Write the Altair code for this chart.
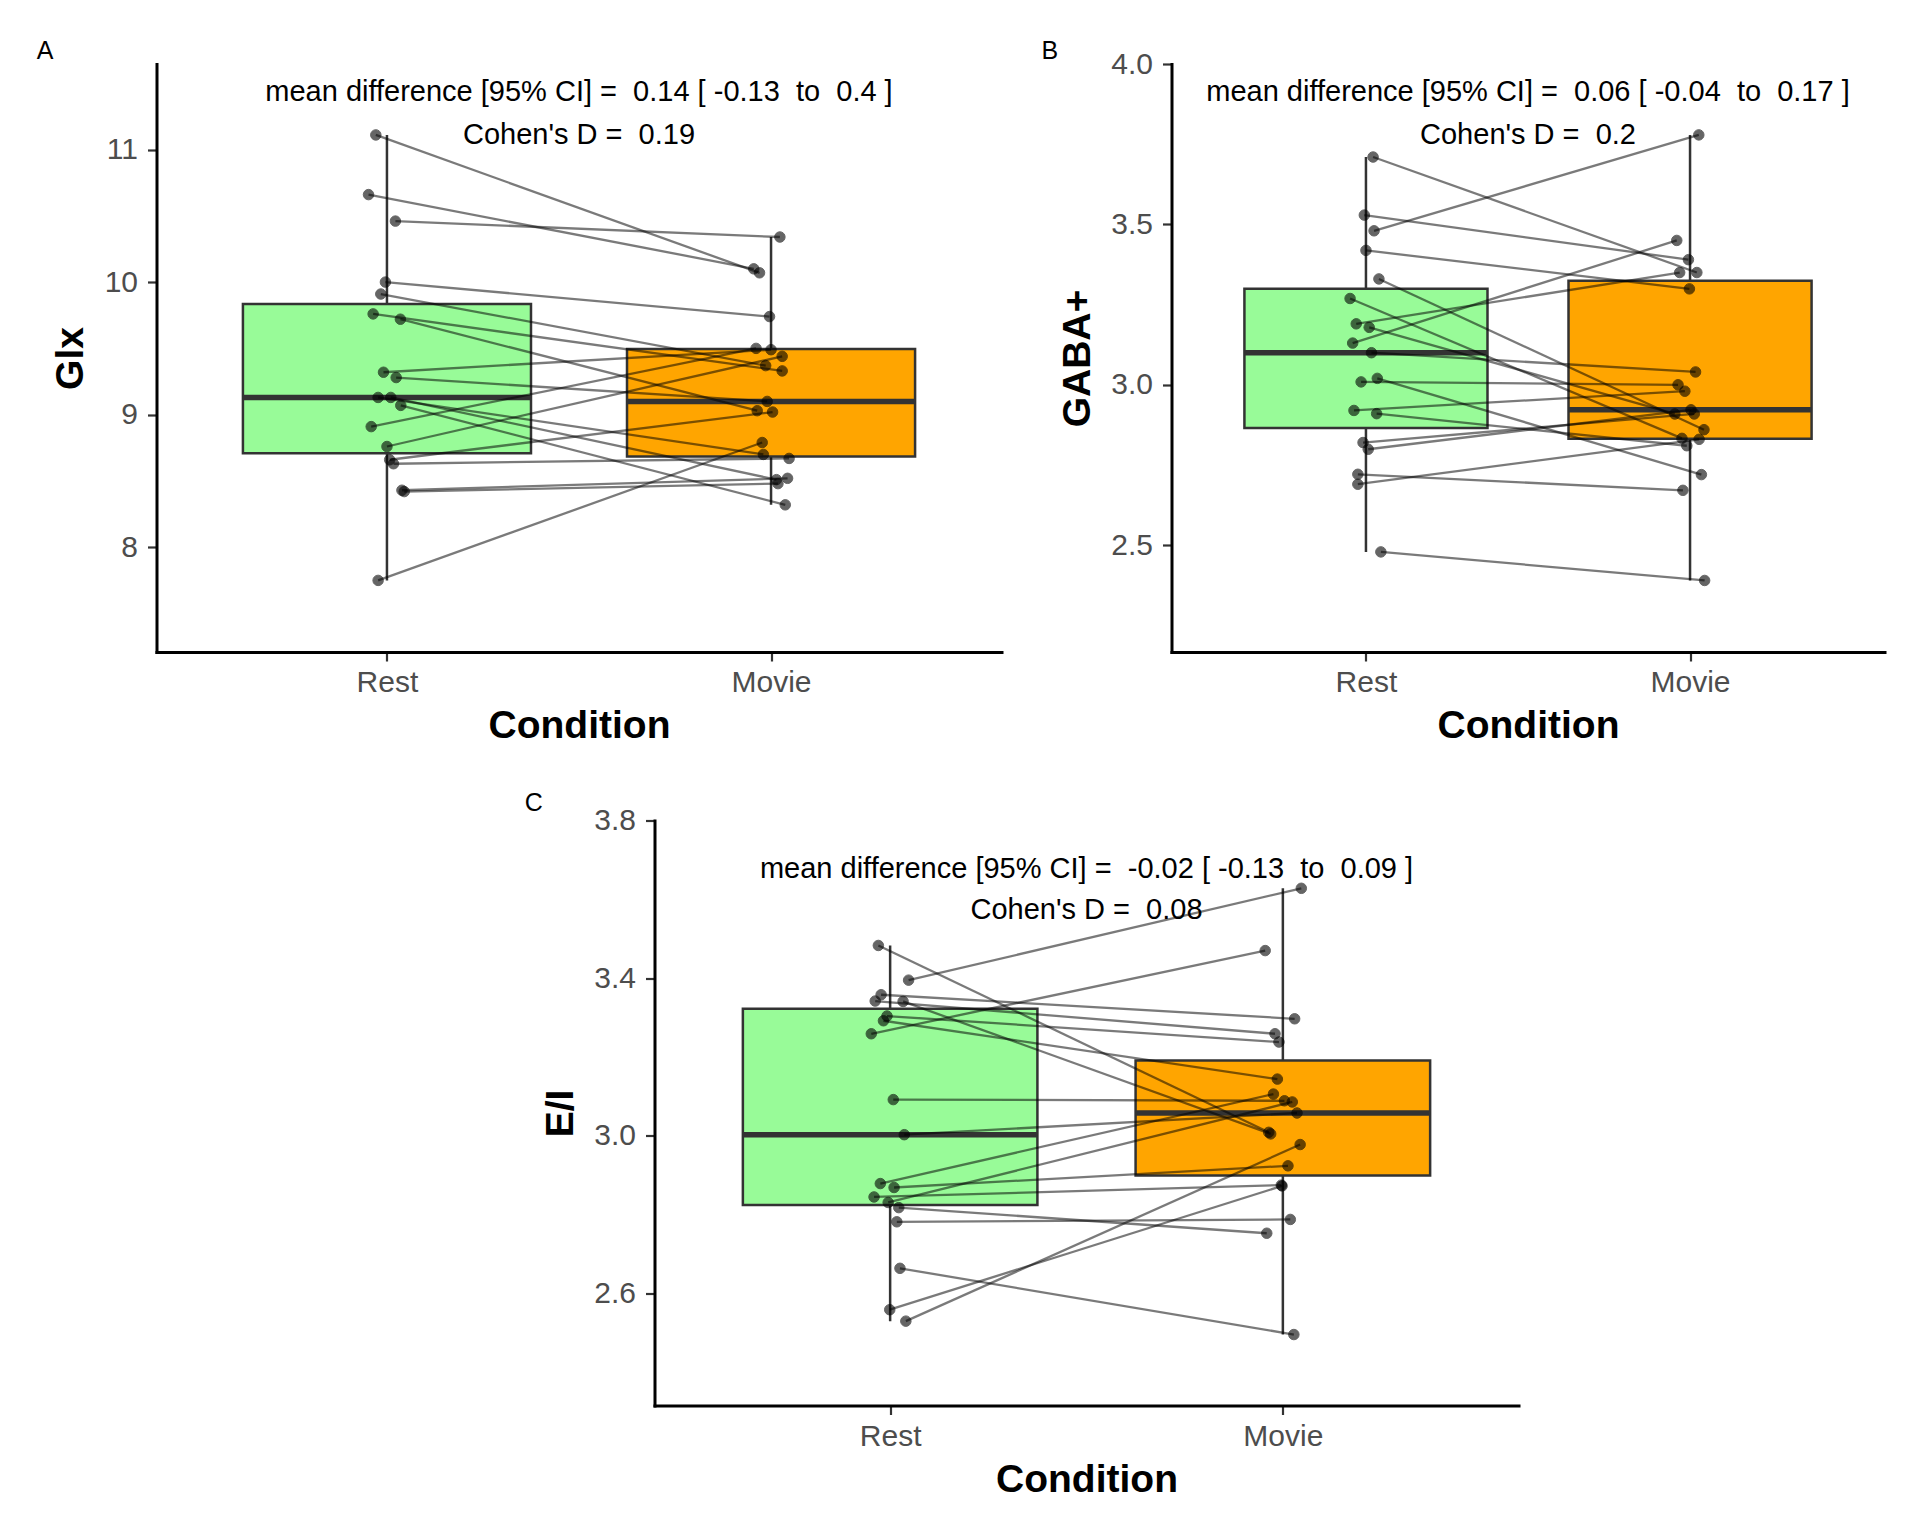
import altair as alt
import pandas as pd

FONT = "Liberation Sans"
CONDITIONS = ["Rest", "Movie"]
FILLS = ["#98FB98", "#FFA500"]

# ---- Panel A: Glx (paired by subject) ----
GLX_REST = [11.11, 10.66, 10.46, 10.00, 9.91, 9.76, 9.72, 9.32, 9.28, 9.13,
            9.13, 9.07, 8.91, 8.76, 8.66, 8.63, 8.43, 8.42, 7.75]
GLX_MOVIE = [10.07, 10.10, 10.34, 9.74, 9.37, 9.33, 9.03, 9.49, 9.10, 8.70,
             8.51, 8.32, 9.50, 9.44, 9.02, 8.67, 8.52, 8.48, 8.79]
GLX_REST_JIT = [-0.029, -0.048, 0.022, -0.004, -0.016, -0.036, 0.035, -0.009, 0.024, -0.023,
                0.010, 0.036, -0.041, 0.000, 0.007, 0.017, 0.039, 0.045, -0.023]
GLX_MOVIE_JIT = [-0.030, -0.045, 0.023, -0.004, -0.014, 0.029, -0.036, 0.000, -0.010, -0.020,
                 0.014, 0.037, -0.039, 0.029, 0.004, 0.047, 0.043, 0.018, -0.023]

# ---- Panel B: GABA+ ----
GABA_REST = [3.710, 3.529, 3.480, 3.419, 3.330, 3.269, 3.190, 3.179, 3.130, 3.100,
             3.020, 3.009, 2.920, 2.910, 2.820, 2.799, 2.721, 2.690, 2.479]
GABA_MOVIE = [3.350, 3.390, 3.779, 3.299, 2.860, 2.833, 3.350, 2.909, 3.450, 3.040,
              2.720, 3.000, 2.980, 2.810, 2.909, 2.922, 2.671, 2.830, 2.390]
GABA_REST_JIT = [0.022, -0.005, 0.025, 0.000, 0.040, -0.049, -0.030, 0.010, -0.041, 0.017,
                 0.035, -0.015, -0.037, 0.033, -0.009, 0.007, -0.025, -0.025, 0.046]
GABA_MOVIE_JIT = [0.021, -0.005, 0.027, -0.002, 0.043, -0.025, -0.032, -0.047, -0.041, 0.017,
                  0.035, -0.037, -0.016, -0.010, 0.013, 0.003, -0.022, 0.028, 0.045]

# ---- Panel C: E/I ----
EI_REST = [3.483, 3.395, 3.358, 3.342, 3.341, 3.304, 3.292, 3.259, 3.092, 3.003,
           2.879, 2.869, 2.845, 2.831, 2.818, 2.782, 2.664, 2.559, 2.530]
EI_MOVIE = [3.009, 3.628, 3.297, 3.259, 3.005, 3.238, 3.144, 3.470, 3.089, 3.058,
            3.106, 2.924, 2.875, 3.086, 2.753, 2.788, 2.496, 2.873, 2.978]
EI_REST_JIT = [-0.030, 0.047, -0.023, -0.038, 0.033, -0.008, -0.017, -0.048, 0.008, 0.036,
               -0.025, 0.010, -0.041, -0.005, 0.022, 0.017, 0.025, -0.001, 0.040]
EI_MOVIE_JIT = [-0.036, 0.047, 0.030, -0.020, -0.031, -0.010, -0.014, -0.045, 0.004, 0.036,
                -0.024, 0.013, -0.004, 0.024, -0.041, 0.019, 0.028, -0.002, 0.044]

# ---- annotation texts ----
A_TEXT = ["mean difference [95% CI] =  0.14 [ -0.13  to  0.4 ]", "Cohen's D =  0.19"]
B_TEXT = ["mean difference [95% CI] =  0.06 [ -0.04  to  0.17 ]", "Cohen's D =  0.2"]
C_TEXT = ["mean difference [95% CI] =  -0.02 [ -0.13  to  0.09 ]", "Cohen's D =  0.08"]


def make_df(rest, movie, rj, mj):
    rows = []
    for i, (r, m, a, b) in enumerate(zip(rest, movie, rj, mj)):
        rows.append(dict(subject=i, cond=CONDITIONS[0], idx=1, value=r, jit=a))
        rows.append(dict(subject=i, cond=CONDITIONS[1], idx=2, value=m, jit=b))
    return pd.DataFrame(rows)


def panel(df, letter, ytitle, domain, ticks, fmt, width, height, texts, text_y, lab_xy):
    xscale = alt.Scale(domain=[0.4, 2.6], nice=False, zero=False)
    yscale = alt.Scale(domain=domain, nice=False, zero=False)
    common = dict(domainColor="black", domainWidth=3, domainCap="square",
                  tickColor="#333333", tickWidth=2.2, tickSize=9,
                  labelColor="#4D4D4D", labelFont=FONT, labelFontSize=30,
                  titleFont=FONT, titleFontSize=39, titleFontWeight="bold",
                  titleColor="black", grid=False, labelFlush=False)
    xaxis = alt.Axis(values=[1, 2],
                     labelExpr=f"datum.value == 1 ? '{CONDITIONS[0]}' : '{CONDITIONS[1]}'",
                     title="Condition", labelPadding=6.5, titlePadding=9, **common)
    yaxis = alt.Axis(values=ticks, format=fmt, title=ytitle, labelPadding=10,
                     titlePadding=13.5, **common)

    base = alt.Chart(df)
    stats = base.transform_aggregate(
        lo="min(value)", q1="q1(value)", med="median(value)", q3="q3(value)",
        hi="max(value)", groupby=["cond", "idx"]
    ).transform_calculate(xa="datum.idx - 0.375", xb="datum.idx + 0.375")

    whisk = stats.mark_rule(color="#333333", strokeWidth=2.5).encode(
        x=alt.X("idx:Q", scale=xscale, axis=xaxis),
        y=alt.Y("lo:Q", scale=yscale, axis=yaxis),
        y2="hi:Q",
    )
    box = stats.mark_bar(stroke="#333333", strokeWidth=2.5).encode(
        x="xa:Q", x2="xb:Q", y="q1:Q", y2="q3:Q",
        fill=alt.Fill("cond:N", scale=alt.Scale(domain=CONDITIONS, range=FILLS), legend=None),
    )
    med = stats.mark_rule(color="#333333", strokeWidth=5.5).encode(
        x="xa:Q", x2="xb:Q", y="med:Q"
    )
    pts = base.transform_calculate(xj="datum.idx + datum.jit")
    lines = pts.mark_line(color="black", opacity=0.52, strokeWidth=2.3).encode(
        x="xj:Q", y="value:Q", detail="subject:N", order="idx:Q"
    )
    points = pts.mark_circle(size=110, color="black", opacity=0.6, stroke="black",
                             strokeWidth=1).encode(x="xj:Q", y="value:Q")

    tdf = pd.DataFrame({"t": [s.replace("  ", " \u00a0") for s in texts], "y": text_y})
    ann = alt.Chart(tdf).mark_text(font=FONT, fontSize=29, color="black").encode(
        x=alt.datum(1.5), y="y:Q", text="t:N"
    )
    lab = alt.Chart(pd.DataFrame({"t": [letter]})).mark_text(
        font=FONT, fontSize=25, color="black", align="center", baseline="middle"
    ).encode(x=alt.value(lab_xy[0]), y=alt.value(lab_xy[1]), text="t:N")

    return alt.layer(whisk, box, med, lines, points, ann, lab).properties(
        width=width, height=height
    )


pA = panel(make_df(GLX_REST, GLX_MOVIE, GLX_REST_JIT, GLX_MOVIE_JIT), "A", "Glx",
           [7.21, 11.645], [8, 9, 10, 11], "d", 845, 588, A_TEXT, [11.436, 11.113], (-111.4, -12.6))
pB = panel(make_df(GABA_REST, GABA_MOVIE, GABA_REST_JIT, GABA_MOVIE_JIT), "B", "GABA+",
           [2.167, 4.0], [2.5, 3.0, 3.5, 4.0], ".1f", 713, 588, B_TEXT, [3.913, 3.780], (-121.7, -12.6))
pC = panel(make_df(EI_REST, EI_MOVIE, EI_REST_JIT, EI_MOVIE_JIT), "C", "E/I",
           [2.316, 3.8], [2.6, 3.0, 3.4, 3.8], ".1f", 864, 585, C_TEXT, [3.678, 3.572], (-120.6, -18))

spacer = alt.Chart(pd.DataFrame({"a": [0]})).mark_text(text="").properties(width=498, height=10)

top_row = alt.hconcat(pA, pB, spacing=170, bounds="flush")
bottom_row = alt.hconcat(spacer, pC, spacing=0, bounds="flush")

chart = alt.vconcat(
    top_row, bottom_row, spacing=44.5,
).properties(
    padding={"left": 28.5, "top": 31, "right": 5, "bottom": 5}
).configure(font=FONT).configure_view(strokeWidth=0)

chart.save("out.html", embed_options={"renderer": "svg", "actions": False})
